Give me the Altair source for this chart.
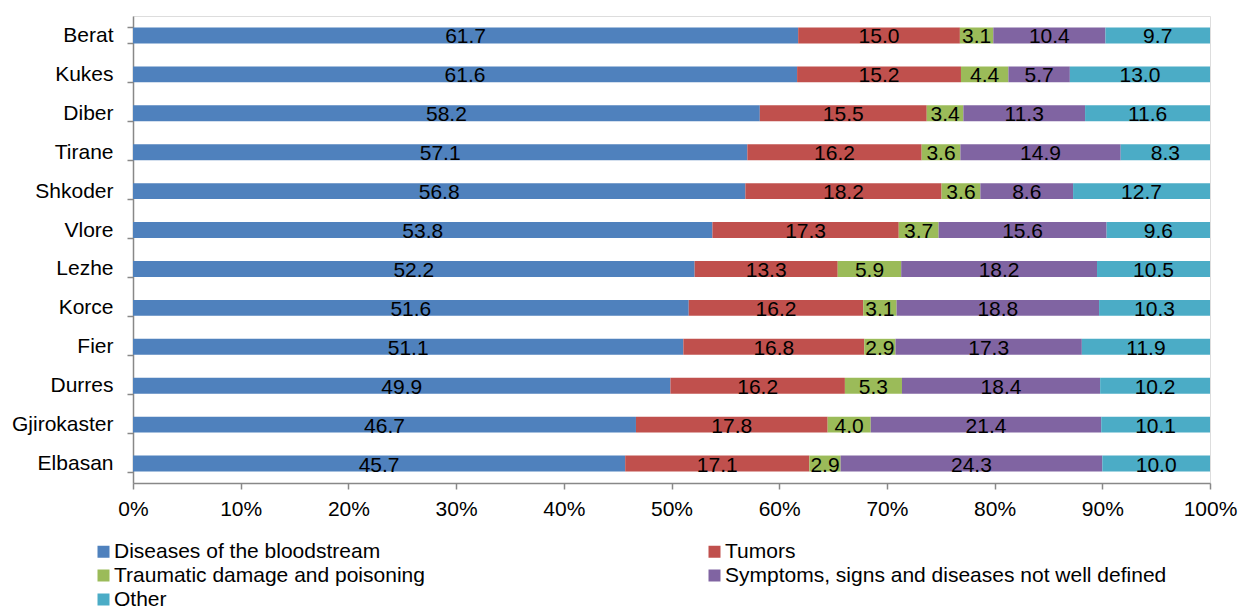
import altair as alt
import pandas as pd

regions = ["Berat", "Kukes", "Diber", "Tirane", "Shkoder", "Vlore", "Lezhe",
           "Korce", "Fier", "Durres", "Gjirokaster", "Elbasan"]
categories = ["Diseases of the bloodstream", "Tumors", "Traumatic damage and poisoning",
              "Symptoms, signs and diseases not well defined", "Other"]
colors = ["#4F81BD", "#C0504D", "#9BBB59", "#8064A2", "#4BACC6"]

diseases = [61.7, 61.6, 58.2, 57.1, 56.8, 53.8, 52.2, 51.6, 51.1, 49.9, 46.7, 45.7]
tumors = [15.0, 15.2, 15.5, 16.2, 18.2, 17.3, 13.3, 16.2, 16.8, 16.2, 17.8, 17.1]
traumatic = [3.1, 4.4, 3.4, 3.6, 3.6, 3.7, 5.9, 3.1, 2.9, 5.3, 4.0, 2.9]
symptoms = [10.4, 5.7, 11.3, 14.9, 8.6, 15.6, 18.2, 18.8, 17.3, 18.4, 21.4, 24.3]
other = [9.7, 13.0, 11.6, 8.3, 12.7, 9.6, 10.5, 10.3, 11.9, 10.2, 10.1, 10.0]

series = [diseases, tumors, traumatic, symptoms, other]
rows = []
for ci, (cat, vals) in enumerate(zip(categories, series)):
    for r, v in zip(regions, vals):
        rows.append({"region": r, "category": cat, "order": ci, "value": v})
df = pd.DataFrame(rows)

FONT = "Liberation Sans"
FS = 21

base = alt.Chart(df).transform_stack(
    stack="value", groupby=["region"], as_=["x0", "x1"],
    offset="normalize", sort=[alt.SortField("order", order="ascending")]
).transform_calculate(
    mid="(datum.x0 + datum.x1) / 2",
    label="format(datum.value, '.1f')"
)

y_enc = alt.Y("region:N", sort=regions, title=None,
              scale=alt.Scale(paddingInner=0.59, paddingOuter=0.295),
              axis=alt.Axis(tickBand="extent", labelFontSize=FS, labelFont=FONT,
                            labelColor="#000000", domainColor="#888888",
                            tickColor="#888888", tickSize=6, labelPadding=14,
                            domainWidth=1.5, tickWidth=1.5, grid=False))

bars = base.mark_bar().encode(
    x=alt.X("x0:Q", title=None,
            scale=alt.Scale(domain=[0, 1], nice=False),
            axis=alt.Axis(format=".0%", values=[i / 10 for i in range(11)],
                          labelFontSize=FS, labelFont=FONT, labelColor="#000000",
                          labelFlush=False,
                          domainColor="#888888", tickColor="#888888", tickSize=6,
                          labelPadding=9, domainWidth=1.5, tickWidth=1.5, grid=False)),
    x2="x1:Q",
    y=y_enc,
    color=alt.Color("category:N", sort=categories,
                    scale=alt.Scale(domain=categories, range=colors),
                    legend=alt.Legend(title=None, orient="none", legendX=-40, legendY=525,
                                      direction="horizontal",
                                      columns=2, columnPadding=279, rowPadding=2,
                                      symbolType="square", symbolSize=144,
                                      symbolStrokeWidth=0, labelFontSize=FS,
                                      labelFont=FONT, labelColor="#000000",
                                      labelOffset=0, labelLimit=700)),
    order=alt.Order("order:Q")
)

text = base.mark_text(fontSize=FS, font=FONT, color="#000000", dy=2).encode(
    x=alt.X("mid:Q"),
    y=alt.Y("region:N", sort=regions),
    text="label:N"
)

chart = (bars + text).properties(
    width=1077, height=467,
    autosize=alt.AutoSizeParams(type="none"),
    padding={"left": 133, "top": 16, "right": 28, "bottom": 127}
).configure_view(stroke=None).configure(background="#ffffff")

chart.save("out.html", embed_options={"renderer": "svg", "actions": False})
